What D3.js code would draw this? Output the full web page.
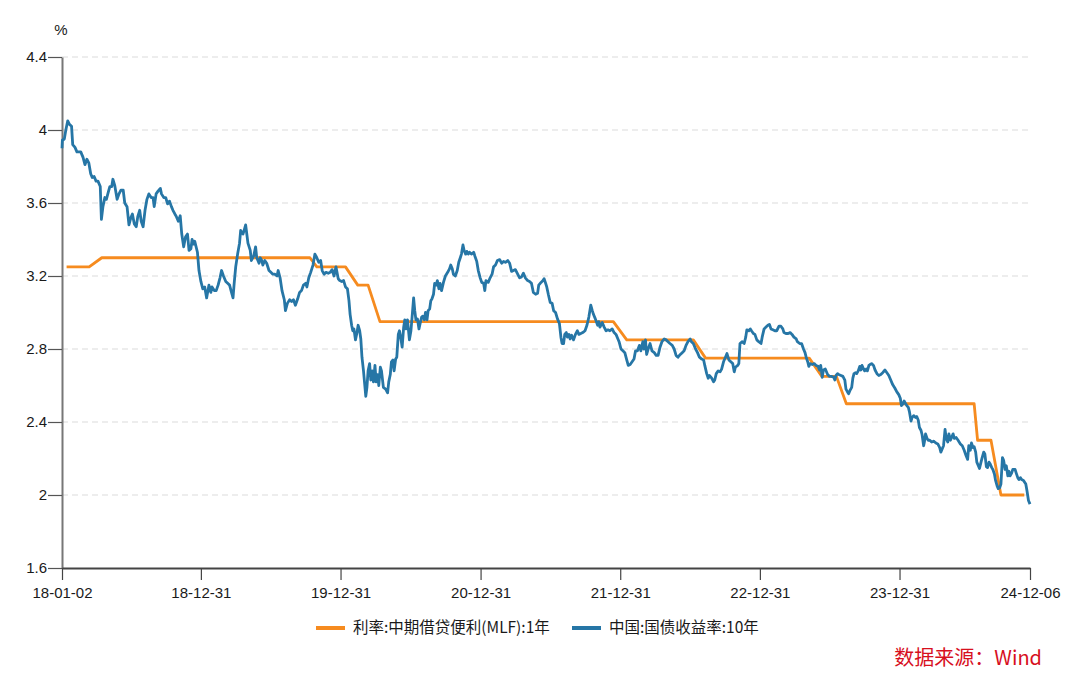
<!DOCTYPE html>
<html><head><meta charset="utf-8">
<script src="https://cdn.jsdelivr.net/npm/d3@7"></script>
<style>body{margin:0;background:#fff}svg{display:block}</style>
</head><body>
<svg id="chart" width="1080" height="687"></svg>
<script>
// ---------- DATA ----------
const xTickDates = ["2018-01-02","2018-12-31","2019-12-31","2020-12-31","2021-12-31","2022-12-31","2023-12-31","2024-12-06"];
const yTicks = [1.6, 2, 2.4, 2.8, 3.2, 3.6, 4, 4.4];
const seriesNames = ["利率:中期借贷便利(MLF):1年", "中国:国债收益率:10年"];
const sourceText = "数据来源：Wind";

// MLF 1Y rate (%)
const mlf = [["2018-01-14",3.25],["2018-03-14",3.25],["2018-04-16",3.30],["2019-10-12",3.30],["2019-10-30",3.25],["2020-01-13",3.25],["2020-02-14",3.15],["2020-03-12",3.15],["2020-04-12",2.95],["2021-12-13",2.95],["2022-01-17",2.85],["2022-07-10",2.85],["2022-08-11",2.75],["2023-05-09",2.75],["2023-06-11",2.65],["2023-07-19",2.65],["2023-08-14",2.50],["2024-07-13",2.50],["2024-07-22",2.30],["2024-08-26",2.30],["2024-09-21",2.00],["2024-11-21",2.00]];

// China 10Y government bond yield (%)
const cgb10y = [
["2018-01-02",3.90],["2018-01-03",3.945],["2018-01-08",3.95],["2018-01-12",4.00],["2018-01-17",4.05],["2018-01-22",4.03],["2018-01-27",4.02],["2018-01-30",3.92],["2018-02-05",3.905],["2018-02-10",3.88],["2018-02-20",3.88],["2018-02-26",3.85],["2018-03-03",3.81],["2018-03-08",3.84],["2018-03-13",3.82],["2018-03-18",3.76],["2018-03-22",3.74],["2018-03-27",3.745],["2018-04-01",3.72],["2018-04-06",3.72],["2018-04-12",3.69],["2018-04-15",3.51],["2018-04-19",3.58],["2018-04-24",3.63],["2018-04-28",3.62],["2018-05-03",3.66],["2018-05-07",3.69],["2018-05-12",3.69],["2018-05-15",3.73],["2018-05-20",3.695],["2018-05-26",3.62],["2018-05-31",3.65],["2018-06-05",3.67],["2018-06-11",3.67],["2018-06-15",3.60],["2018-06-21",3.58],["2018-06-26",3.48],["2018-07-01",3.52],["2018-07-05",3.54],["2018-07-10",3.485],["2018-07-15",3.47],["2018-07-19",3.525],["2018-07-24",3.56],["2018-07-28",3.50],["2018-08-02",3.47],["2018-08-07",3.56],["2018-08-12",3.62],["2018-08-17",3.65],["2018-08-23",3.63],["2018-08-28",3.63],["2018-08-31",3.58],["2018-09-05",3.65],["2018-09-10",3.665],["2018-09-16",3.68],["2018-09-19",3.65],["2018-09-25",3.63],["2018-09-30",3.63],["2018-10-05",3.595],["2018-10-10",3.61],["2018-10-15",3.58],["2018-10-19",3.56],["2018-10-24",3.54],["2018-10-28",3.525],["2018-11-02",3.50],["2018-11-07",3.53],["2018-11-11",3.43],["2018-11-16",3.36],["2018-11-21",3.415],["2018-11-26",3.43],["2018-11-30",3.34],["2018-12-05",3.35],["2018-12-08",3.40],["2018-12-12",3.375],["2018-12-15",3.39],["2018-12-22",3.33],["2018-12-26",3.23],["2018-12-31",3.17],
["2019-01-05",3.13],["2019-01-10",3.14],["2019-01-15",3.08],["2019-01-21",3.15],["2019-01-26",3.11],["2019-01-29",3.14],["2019-02-04",3.12],["2019-02-09",3.12],["2019-02-14",3.15],["2019-02-19",3.19],["2019-02-23",3.23],["2019-02-28",3.20],["2019-03-06",3.17],["2019-03-11",3.16],["2019-03-16",3.15],["2019-03-21",3.11],["2019-03-25",3.08],["2019-03-28",3.16],["2019-04-01",3.25],["2019-04-06",3.32],["2019-04-11",3.38],["2019-04-14",3.45],["2019-04-20",3.43],["2019-04-23",3.45],["2019-04-27",3.48],["2019-04-30",3.43],["2019-05-03",3.38],["2019-05-09",3.34],["2019-05-12",3.285],["2019-05-18",3.31],["2019-05-23",3.36],["2019-05-26",3.30],["2019-06-01",3.27],["2019-06-04",3.30],["2019-06-08",3.285],["2019-06-11",3.26],["2019-06-16",3.285],["2019-06-21",3.27],["2019-06-27",3.23],["2019-07-02",3.22],["2019-07-07",3.21],["2019-07-12",3.21],["2019-07-18",3.20],["2019-07-21",3.23],["2019-07-26",3.19],["2019-07-31",3.12],["2019-08-06",3.07],["2019-08-09",3.01],["2019-08-14",3.05],["2019-08-20",3.07],["2019-08-25",3.06],["2019-08-30",3.07],["2019-09-04",3.04],["2019-09-10",3.075],["2019-09-15",3.11],["2019-09-20",3.12],["2019-09-25",3.15],["2019-10-01",3.16],["2019-10-04",3.14],["2019-10-09",3.19],["2019-10-14",3.22],["2019-10-20",3.26],["2019-10-25",3.32],["2019-10-30",3.30],["2019-11-04",3.275],["2019-11-09",3.285],["2019-11-13",3.23],["2019-11-18",3.21],["2019-11-23",3.22],["2019-11-29",3.215],["2019-12-04",3.22],["2019-12-09",3.235],["2019-12-14",3.20],["2019-12-19",3.25],["2019-12-25",3.185],["2019-12-29",3.175],
["2020-01-03",3.17],["2020-01-08",3.175],["2020-01-13",3.14],["2020-01-18",3.13],["2020-01-22",3.065],["2020-01-25",2.99],["2020-01-29",2.93],["2020-02-01",2.90],["2020-02-04",2.91],["2020-02-08",2.85],["2020-02-12",2.89],["2020-02-15",2.93],["2020-02-19",2.90],["2020-02-22",2.855],["2020-02-25",2.755],["2020-02-29",2.68],["2020-03-03",2.61],["2020-03-06",2.54],["2020-03-09",2.59],["2020-03-12",2.68],["2020-03-16",2.72],["2020-03-19",2.63],["2020-03-23",2.68],["2020-03-26",2.62],["2020-03-30",2.71],["2020-04-02",2.62],["2020-04-06",2.66],["2020-04-09",2.60],["2020-04-13",2.70],["2020-04-16",2.68],["2020-04-21",2.59],["2020-04-27",2.58],["2020-05-02",2.56],["2020-05-05",2.62],["2020-05-09",2.66],["2020-05-12",2.73],["2020-05-16",2.74],["2020-05-19",2.68],["2020-05-23",2.745],["2020-05-26",2.755],["2020-05-30",2.88],["2020-06-02",2.90],["2020-06-06",2.855],["2020-06-09",2.81],["2020-06-13",2.92],["2020-06-16",2.96],["2020-06-19",2.91],["2020-06-23",2.96],["2020-06-28",2.85],["2020-07-02",2.90],["2020-07-05",2.975],["2020-07-09",3.08],["2020-07-12",3.01],["2020-07-15",2.96],["2020-07-19",2.965],["2020-07-23",2.91],["2020-07-26",2.94],["2020-07-30",2.975],["2020-08-02",2.98],["2020-08-06",2.96],["2020-08-09",3.00],["2020-08-13",2.96],["2020-08-16",3.01],["2020-08-20",3.02],["2020-08-23",3.065],["2020-08-26",3.075],["2020-08-30",3.10],["2020-09-02",3.16],["2020-09-06",3.15],["2020-09-09",3.175],["2020-09-13",3.13],["2020-09-16",3.16],["2020-09-20",3.12],["2020-09-25",3.165],["2020-09-30",3.20],["2020-10-06",3.22],["2020-10-11",3.24],["2020-10-14",3.26],["2020-10-18",3.24],["2020-10-21",3.21],["2020-10-26",3.20],["2020-10-31",3.23],["2020-11-04",3.275],["2020-11-08",3.30],["2020-11-11",3.32],["2020-11-15",3.37],["2020-11-18",3.34],["2020-11-22",3.32],["2020-11-25",3.335],["2020-11-29",3.32],["2020-12-02",3.33],["2020-12-07",3.32],["2020-12-13",3.33],["2020-12-16",3.31],["2020-12-21",3.28],["2020-12-25",3.23],["2020-12-30",3.19],
["2021-01-03",3.165],["2021-01-08",3.16],["2021-01-11",3.12],["2021-01-14",3.175],["2021-01-20",3.165],["2021-01-25",3.19],["2021-01-30",3.21],["2021-02-03",3.25],["2021-02-08",3.26],["2021-02-13",3.285],["2021-02-19",3.29],["2021-02-24",3.27],["2021-03-01",3.28],["2021-03-06",3.275],["2021-03-12",3.285],["2021-03-17",3.27],["2021-03-22",3.225],["2021-03-27",3.23],["2021-04-01",3.235],["2021-04-07",3.21],["2021-04-12",3.19],["2021-04-17",3.195],["2021-04-22",3.215],["2021-04-27",3.19],["2021-05-03",3.175],["2021-05-08",3.17],["2021-05-13",3.16],["2021-05-18",3.11],["2021-05-24",3.10],["2021-05-29",3.105],["2021-06-01",3.15],["2021-06-07",3.165],["2021-06-12",3.175],["2021-06-15",3.185],["2021-06-19",3.16],["2021-06-22",3.14],["2021-06-26",3.10],["2021-07-01",3.055],["2021-07-06",3.05],["2021-07-10",3.01],["2021-07-15",3.00],["2021-07-20",2.965],["2021-07-25",2.94],["2021-07-29",2.865],["2021-08-01",2.83],["2021-08-05",2.83],["2021-08-08",2.88],["2021-08-12",2.89],["2021-08-15",2.865],["2021-08-19",2.88],["2021-08-22",2.855],["2021-08-26",2.875],["2021-08-31",2.85],["2021-09-05",2.88],["2021-09-10",2.90],["2021-09-14",2.88],["2021-09-19",2.885],["2021-09-24",2.89],["2021-09-30",2.90],["2021-10-05",2.93],["2021-10-10",2.975],["2021-10-15",3.04],["2021-10-19",3.01],["2021-10-22",2.99],["2021-10-27",2.965],["2021-11-02",2.93],["2021-11-05",2.95],["2021-11-08",2.92],["2021-11-14",2.945],["2021-11-19",2.92],["2021-11-24",2.90],["2021-11-29",2.905],["2021-12-04",2.90],["2021-12-10",2.91],["2021-12-15",2.89],["2021-12-20",2.88],["2021-12-25",2.855],["2021-12-28",2.84],
["2022-01-02",2.80],["2022-01-07",2.79],["2022-01-12",2.78],["2022-01-17",2.74],["2022-01-21",2.71],["2022-01-26",2.715],["2022-01-31",2.73],["2022-02-05",2.745],["2022-02-09",2.79],["2022-02-14",2.79],["2022-02-19",2.82],["2022-02-23",2.79],["2022-02-28",2.84],["2022-03-03",2.80],["2022-03-07",2.85],["2022-03-10",2.77],["2022-03-14",2.80],["2022-03-19",2.83],["2022-03-24",2.79],["2022-03-30",2.78],["2022-04-04",2.765],["2022-04-09",2.765],["2022-04-14",2.81],["2022-04-19",2.84],["2022-04-25",2.855],["2022-04-30",2.85],["2022-05-05",2.84],["2022-05-10",2.83],["2022-05-16",2.82],["2022-05-21",2.80],["2022-05-26",2.765],["2022-05-31",2.755],["2022-06-06",2.77],["2022-06-11",2.78],["2022-06-16",2.79],["2022-06-21",2.82],["2022-06-26",2.84],["2022-07-02",2.855],["2022-07-05",2.84],["2022-07-10",2.83],["2022-07-16",2.80],["2022-07-21",2.78],["2022-07-26",2.755],["2022-08-01",2.745],["2022-08-06",2.74],["2022-08-09",2.71],["2022-08-14",2.665],["2022-08-18",2.64],["2022-08-21",2.655],["2022-08-27",2.64],["2022-09-01",2.62],["2022-09-04",2.63],["2022-09-08",2.665],["2022-09-13",2.68],["2022-09-18",2.675],["2022-09-22",2.69],["2022-09-27",2.73],["2022-10-02",2.755],["2022-10-06",2.775],["2022-10-11",2.74],["2022-10-16",2.73],["2022-10-21",2.72],["2022-10-25",2.675],["2022-10-28",2.70],["2022-11-03",2.71],["2022-11-06",2.72],["2022-11-09",2.83],["2022-11-15",2.84],["2022-11-20",2.83],["2022-11-24",2.865],["2022-11-27",2.905],["2022-12-02",2.90],["2022-12-06",2.91],["2022-12-09",2.90],["2022-12-14",2.885],["2022-12-18",2.88],["2022-12-23",2.85],["2022-12-28",2.84],
["2023-01-03",2.83],["2023-01-06",2.865],["2023-01-11",2.91],["2023-01-16",2.92],["2023-01-21",2.93],["2023-01-25",2.935],["2023-01-29",2.91],["2023-02-03",2.905],["2023-02-08",2.90],["2023-02-13",2.90],["2023-02-19",2.925],["2023-02-24",2.925],["2023-03-01",2.91],["2023-03-04",2.89],["2023-03-09",2.885],["2023-03-15",2.885],["2023-03-20",2.89],["2023-03-25",2.88],["2023-03-30",2.865],["2023-04-05",2.855],["2023-04-08",2.84],["2023-04-14",2.83],["2023-04-19",2.83],["2023-04-24",2.80],["2023-04-28",2.78],["2023-05-01",2.755],["2023-05-05",2.73],["2023-05-08",2.705],["2023-05-11",2.72],["2023-05-17",2.715],["2023-05-22",2.72],["2023-05-27",2.71],["2023-06-01",2.705],["2023-06-05",2.685],["2023-06-08",2.71],["2023-06-12",2.645],["2023-06-15",2.685],["2023-06-20",2.69],["2023-06-26",2.66],["2023-07-01",2.65],["2023-07-06",2.65],["2023-07-12",2.645],["2023-07-15",2.63],["2023-07-18",2.655],["2023-07-22",2.665],["2023-07-25",2.66],["2023-07-31",2.655],["2023-08-05",2.65],["2023-08-10",2.63],["2023-08-13",2.58],["2023-08-17",2.565],["2023-08-20",2.555],["2023-08-24",2.575],["2023-08-28",2.59],["2023-08-31",2.64],["2023-09-03",2.665],["2023-09-07",2.67],["2023-09-10",2.665],["2023-09-14",2.68],["2023-09-18",2.705],["2023-09-21",2.685],["2023-09-24",2.71],["2023-09-28",2.69],["2023-10-01",2.68],["2023-10-05",2.69],["2023-10-08",2.68],["2023-10-12",2.71],["2023-10-15",2.715],["2023-10-19",2.72],["2023-10-24",2.71],["2023-10-28",2.685],["2023-11-02",2.665],["2023-11-07",2.655],["2023-11-12",2.66],["2023-11-17",2.67],["2023-11-23",2.685],["2023-11-28",2.67],["2023-12-03",2.655],["2023-12-08",2.63],["2023-12-13",2.605],["2023-12-19",2.585],["2023-12-24",2.565],["2023-12-29",2.55],
["2024-01-02",2.53],["2024-01-05",2.49],["2024-01-09",2.50],["2024-01-12",2.515],["2024-01-16",2.50],["2024-01-19",2.49],["2024-01-23",2.48],["2024-01-26",2.455],["2024-01-30",2.405],["2024-02-02",2.425],["2024-02-06",2.435],["2024-02-11",2.425],["2024-02-14",2.43],["2024-02-18",2.41],["2024-02-21",2.37],["2024-02-25",2.355],["2024-02-28",2.33],["2024-03-03",2.27],["2024-03-05",2.29],["2024-03-08",2.335],["2024-03-12",2.31],["2024-03-15",2.30],["2024-03-19",2.30],["2024-03-24",2.29],["2024-03-29",2.295],["2024-04-04",2.285],["2024-04-09",2.28],["2024-04-14",2.26],["2024-04-17",2.235],["2024-04-21",2.255],["2024-04-24",2.27],["2024-04-28",2.36],["2024-05-01",2.31],["2024-05-05",2.29],["2024-05-08",2.335],["2024-05-12",2.30],["2024-05-15",2.315],["2024-05-19",2.335],["2024-05-22",2.31],["2024-05-27",2.315],["2024-06-01",2.30],["2024-06-07",2.28],["2024-06-12",2.27],["2024-06-17",2.245],["2024-06-22",2.215],["2024-06-26",2.195],["2024-06-29",2.27],["2024-07-03",2.245],["2024-07-06",2.285],["2024-07-10",2.26],["2024-07-13",2.265],["2024-07-17",2.235],["2024-07-20",2.18],["2024-07-24",2.16],["2024-07-27",2.145],["2024-07-31",2.18],["2024-08-03",2.205],["2024-08-07",2.235],["2024-08-10",2.225],["2024-08-14",2.155],["2024-08-17",2.15],["2024-08-21",2.18],["2024-08-24",2.17],["2024-08-28",2.15],["2024-08-31",2.14],["2024-09-04",2.115],["2024-09-07",2.08],["2024-09-11",2.05],["2024-09-14",2.035],["2024-09-18",2.04],["2024-09-21",2.06],["2024-09-25",2.205],["2024-09-28",2.19],["2024-10-02",2.14],["2024-10-05",2.16],["2024-10-09",2.105],["2024-10-12",2.13],["2024-10-15",2.105],["2024-10-19",2.12],["2024-10-22",2.14],["2024-10-28",2.14],["2024-10-31",2.12],["2024-11-04",2.095],["2024-11-07",2.085],["2024-11-11",2.095],["2024-11-14",2.085],["2024-11-19",2.08],["2024-11-25",2.06],["2024-11-28",2.025],["2024-12-02",1.97],["2024-12-06",1.95]
];

// ---------- CHART ----------
(function () {
const colors = {mlf: "#f68b1f", cgb: "#2676a6"};
const parse = d3.timeParse("%Y-%m-%d");
const fmtX = d3.timeFormat("%y-%m-%d");
const svg = d3.select("#chart");
const mLeft = 62, mRight = 1030, mTop = 57, mBottom = 568;
const latin = "'Liberation Sans', Arial, Helvetica, sans-serif";
const cjk = "'Noto Sans CJK SC', 'Liberation Sans', sans-serif";

const x = d3.scaleTime().domain([parse(xTickDates[0]), parse(xTickDates[xTickDates.length-1])]).range([mLeft, mRight]);
const y = d3.scaleLinear().domain([1.6, 4.4]).range([mBottom, mTop]);

// grid
svg.append("g").selectAll("line").data(yTicks.filter(v => v > 1.6)).join("line")
  .attr("x1", mLeft).attr("x2", mRight)
  .attr("y1", d => y(d)).attr("y2", d => y(d))
  .attr("stroke", "#dcdcdc").attr("stroke-width", 1.2).attr("stroke-dasharray", "6,4");

// y axis
const yAxis = svg.append("g").attr("transform", `translate(${mLeft},0)`)
  .call(d3.axisLeft(y).tickValues(yTicks).tickFormat(d3.format("~g")).tickSize(14).tickPadding(1).tickSizeOuter(0));
yAxis.select(".domain").attr("stroke", "#777").attr("stroke-width", 2);
yAxis.selectAll(".tick line").attr("stroke", "#555").attr("stroke-width", 1.2);
yAxis.selectAll(".tick text").attr("font-family", latin).attr("font-size", 15).attr("fill", "#1a1a1a");

// x axis
const xAxis = svg.append("g").attr("transform", `translate(0,${mBottom})`)
  .call(d3.axisBottom(x).tickValues(xTickDates.map(parse)).tickFormat(fmtX).tickSize(12).tickPadding(7).tickSizeOuter(0));
xAxis.select(".domain").attr("stroke", "#444").attr("stroke-width", 2);
xAxis.selectAll(".tick line").attr("stroke", "#444").attr("stroke-width", 1.2);
xAxis.selectAll(".tick text").attr("font-family", latin).attr("font-size", 15).attr("fill", "#1a1a1a");

// unit
svg.append("text").attr("x", 61).attr("y", 35).attr("text-anchor", "middle")
  .attr("font-family", latin).attr("font-size", 15).attr("fill", "#1a1a1a").text("%");

// lines
const line = d3.line().x(d => x(parse(d[0]))).y(d => y(d[1]));
svg.append("path").datum(mlf).attr("d", line).attr("fill", "none")
  .attr("stroke", colors.mlf).attr("stroke-width", 2.8).attr("stroke-linejoin", "round");
svg.append("path").datum(cgb10y).attr("d", line).attr("fill", "none")
  .attr("stroke", colors.cgb).attr("stroke-width", 2.8).attr("stroke-linejoin", "round");

// legend
const legend = [
  {name: seriesNames[0], color: colors.mlf, x: 316},
  {name: seriesNames[1], color: colors.cgb, x: 572}
];
const lg = svg.append("g");
legend.forEach(l => {
  lg.append("line").attr("x1", l.x).attr("x2", l.x + 29).attr("y1", 628).attr("y2", 628)
    .attr("stroke", l.color).attr("stroke-width", 4);
  lg.append("text").attr("x", l.x + 37).attr("y", 633).attr("font-family", cjk)
    .attr("font-size", 15.5).attr("fill", "#1a1a1a").text(l.name);
});

// source
svg.append("text").attr("x", 1042).attr("y", 665).attr("text-anchor", "end")
  .attr("font-family", cjk).attr("font-size", 20).attr("fill", "#d7101e").text(sourceText);
})();
</script>
</body></html>
